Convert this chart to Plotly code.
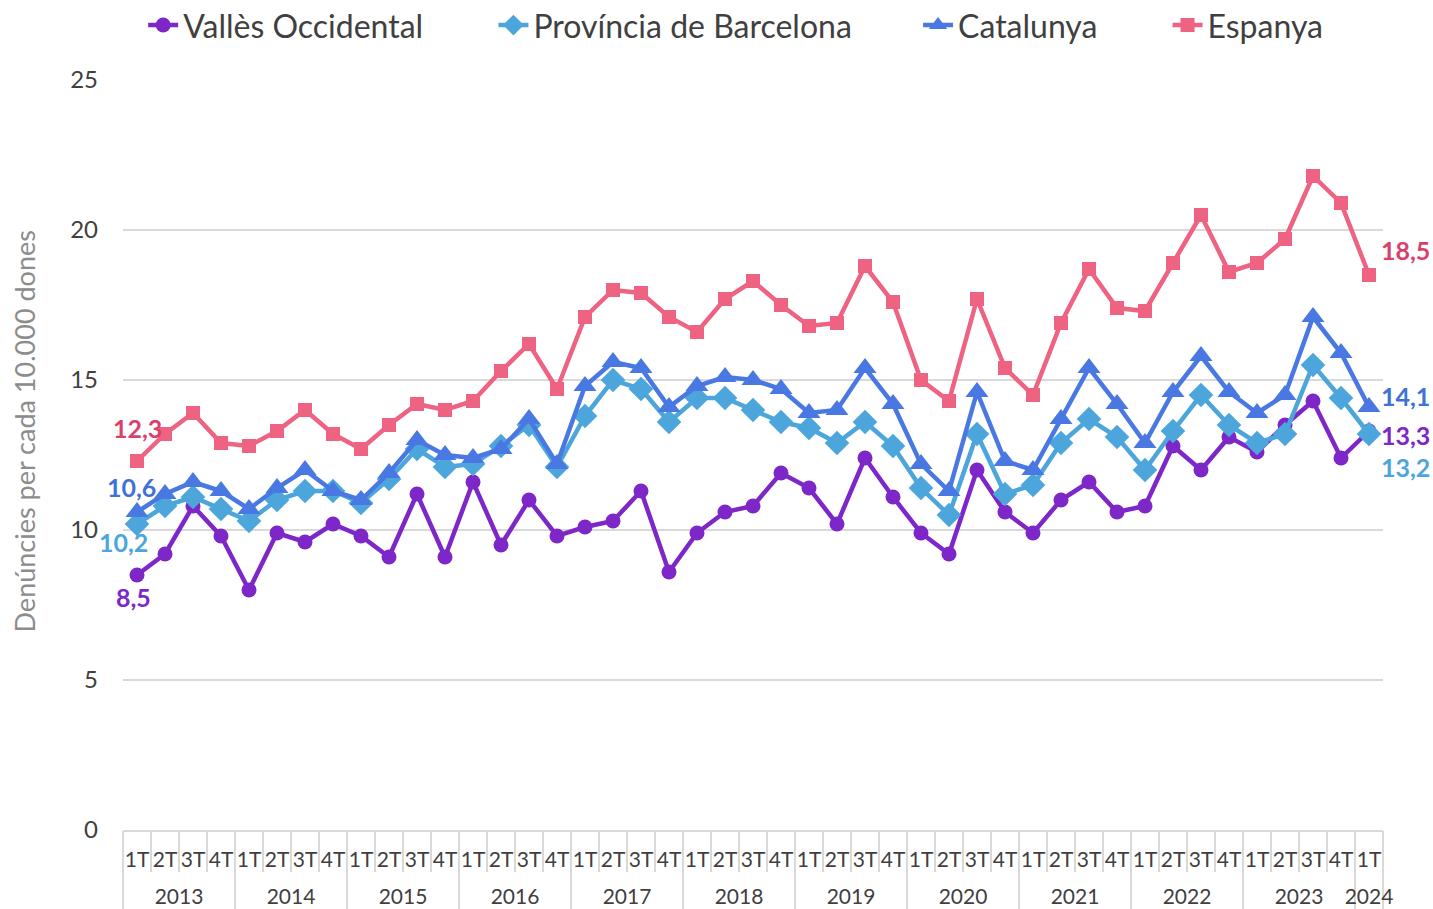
import plotly.graph_objects as go

years = ["2013", "2014", "2015", "2016", "2017", "2018", "2019", "2020", "2021", "2022", "2023", "2024"]
quarters = ["1T", "2T", "3T", "4T"]
n_points = 45

valles = [8.5, 9.2, 10.8, 9.8, 8.0, 9.9, 9.6, 10.2, 9.8, 9.1, 11.2, 9.1, 11.6, 9.5, 11.0, 9.8,
          10.1, 10.3, 11.3, 8.6, 9.9, 10.6, 10.8, 11.9, 11.4, 10.2, 12.4, 11.1, 9.9, 9.2, 12.0,
          10.6, 9.9, 11.0, 11.6, 10.6, 10.8, 12.8, 12.0, 13.1, 12.6, 13.5, 14.3, 12.4, 13.3]
provincia = [10.2, 10.8, 11.1, 10.7, 10.3, 11.0, 11.3, 11.3, 10.9, 11.7, 12.7, 12.1, 12.2, 12.8, 13.5, 12.1,
             13.8, 15.0, 14.7, 13.6, 14.4, 14.4, 14.0, 13.6, 13.4, 12.9, 13.6, 12.8, 11.4, 10.5, 13.2,
             11.2, 11.5, 12.9, 13.7, 13.1, 12.0, 13.3, 14.5, 13.5, 12.9, 13.2, 15.5, 14.4, 13.2]
catalunya = [10.6, 11.2, 11.6, 11.3, 10.7, 11.4, 12.0, 11.3, 11.0, 11.9, 13.0, 12.5, 12.4, 12.7, 13.7, 12.2,
             14.8, 15.6, 15.4, 14.1, 14.8, 15.1, 15.0, 14.7, 13.9, 14.0, 15.4, 14.2, 12.2, 11.3, 14.6,
             12.3, 12.0, 13.7, 15.4, 14.2, 12.9, 14.6, 15.8, 14.6, 13.9, 14.5, 17.1, 15.9, 14.1]
espanya = [12.3, 13.2, 13.9, 12.9, 12.8, 13.3, 14.0, 13.2, 12.7, 13.5, 14.2, 14.0, 14.3, 15.3, 16.2, 14.7,
           17.1, 18.0, 17.9, 17.1, 16.6, 17.7, 18.3, 17.5, 16.8, 16.9, 18.8, 17.6, 15.0, 14.3, 17.7,
           15.4, 14.5, 16.9, 18.7, 17.4, 17.3, 18.9, 20.5, 18.6, 18.9, 19.7, 21.8, 20.9, 18.5]

year_axis = [years[i // 4] for i in range(n_points)]
quarter_axis = [quarters[i % 4] for i in range(n_points)]
categories = [f"{y} {q}" for y, q in zip(year_axis, quarter_axis)]

# year group centres and boundaries (in category index units)
year_centers = [sum(i for i in range(n_points) if year_axis[i] == y) /
                sum(1 for i in range(n_points) if year_axis[i] == y) for y in years]
year_bounds = [i - 0.5 for i in range(n_points) if quarter_axis[i] == "1T"] + [n_points - 0.5]

# name, values, line colour, symbol, marker size, label colour, legend id, legend x (paper)
series = [
    ("Vallès Occidental", valles, "#7E27C8", "circle", 15, "#7E27C8", "legend", 0.016),
    ("Província de Barcelona", provincia, "#4DA6DB", "diamond", 19, "#4DA6DB", "legend2", 0.294),
    ("Catalunya", catalunya, "#4A78E2", "triangle-up", 20, "#3F72D6", "legend3", 0.631),
    ("Espanya", espanya, "#EE6282", "square", 14, "#D9416C", "legend4", 0.829),
]

fig = go.Figure()
for name, vals, color, sym, msize, _, lg, _lx in series:
    fig.add_trace(go.Scatter(
        x=categories, y=vals, name=name, mode="lines+markers",
        line=dict(color=color, width=4.5),
        marker=dict(symbol=sym, size=msize, color=color),
        legend=lg,
    ))

# empty helper traces so that the year-divider and year-label axes are drawn
for ax in ["x2", "x3"]:
    fig.add_trace(go.Scatter(x=[], y=[], xaxis=ax, yaxis="y", showlegend=False,
                             hoverinfo="skip"))

# data labels: (series index, point index, xshift, yshift)
label_specs = [
    (3, 0, 0, 33), (2, 0, -6, 25), (1, 0, -14, -18), (0, 0, -4, -22),
    (3, -1, 36, 25), (2, -1, 36, 11), (0, -1, 36, -4), (1, -1, 36, -33),
]
annotations = []
for si, pi, xs, ys in label_specs:
    vals, lcol = series[si][1], series[si][5]
    idx = pi % n_points
    annotations.append(dict(
        x=idx, y=vals[idx], xref="x", yref="y",
        text=f"{vals[idx]:.1f}".replace(".", ","), showarrow=False,
        xshift=xs, yshift=ys, font=dict(family="Lato", size=25, color=lcol, weight="bold"),
    ))

annotations.append(dict(
    text="Denúncies per cada 10.000 dones", xref="paper", yref="paper",
    x=-0.078, y=0.531, xanchor="center", yanchor="middle", textangle=-90, showarrow=False,
    font=dict(family="Lato", size=27, color="#8C8C8C"),
))

legend_common = dict(orientation="h", xanchor="left", y=1.073, yanchor="middle",
                     font=dict(family="Lato", size=32, color="#404040"),
                     bgcolor="rgba(0,0,0,0)", borderwidth=0)
layout_legends = {}
for name, vals, color, sym, msize, lcol, lg, lx in series:
    layout_legends[lg] = dict(legend_common, x=lx)

grey = "#D9D9D9"
fig.update_layout(
    width=1433, height=909,
    margin=dict(l=123, r=50, t=80, b=79, autoexpand=False),
    paper_bgcolor="white", plot_bgcolor="white",
    font=dict(family="Lato", color="#404040"),
    showlegend=True,
    annotations=annotations,
    xaxis=dict(type="category", range=[-0.5, n_points - 0.5], showgrid=False, tickangle=0,
               tickmode="array", tickvals=categories, ticktext=quarter_axis,
               tickson="boundaries", ticks="outside", ticklen=40, tickcolor=grey, tickwidth=1.5,
               ticklabelstandoff=10,
               showline=True, linecolor=grey, linewidth=1.5,
               tickfont=dict(family="Lato", size=21, color="#404040"), automargin=False),
    xaxis2=dict(overlaying="x", anchor="y", side="bottom", type="linear",
                range=[-0.5, n_points - 0.5],
                showgrid=False, zeroline=False, showline=False,
                tickmode="array", tickvals=year_bounds, showticklabels=False,
                ticks="outside", ticklen=80, tickcolor=grey, tickwidth=1.5, automargin=False),
    xaxis3=dict(overlaying="x", anchor="y", side="bottom", type="linear",
                range=[-0.5, n_points - 0.5],
                showgrid=False, zeroline=False, showline=False,
                tickmode="array", tickvals=year_centers, ticktext=years, ticks="",
                ticklabelstandoff=52, tickangle=0,
                tickfont=dict(family="Lato", size=21, color="#404040"), automargin=False),
    yaxis=dict(range=[0, 25], tickvals=[0, 5, 10, 15, 20, 25], showgrid=True,
               gridcolor=grey, gridwidth=1.5, zeroline=True, zerolinecolor=grey,
               zerolinewidth=1.5, tickfont=dict(family="Lato", size=24, color="#404040"),
               ticklabelstandoff=24, automargin=False),
    **layout_legends,
)

fig.write_html("out.html", post_script="document.body.style.margin='0';",
               config={"displayModeBar": False})
